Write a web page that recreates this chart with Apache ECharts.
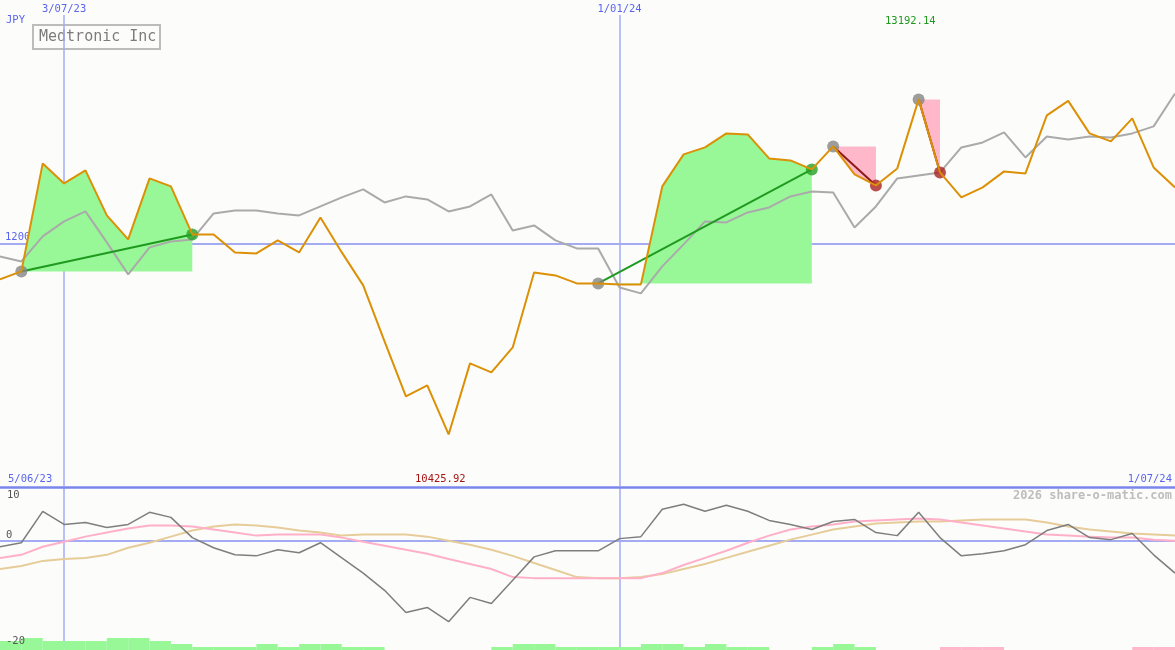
<!DOCTYPE html>
<html>
<head>
<meta charset="utf-8">
<script src="https://cdn.jsdelivr.net/npm/echarts/dist/echarts.min.js"></script>
<style>
html,body{margin:0;padding:0;background:#fcfdfb;}
#chart{width:1175px;height:650px;}
</style>
</head>
<body>
<div id="chart"></div>
<script>
// ---- data ----
const dates = ['12/06/23','19/06/23','26/06/23','3/07/23','10/07/23','17/07/23','24/07/23','31/07/23','7/08/23','14/08/23',
'21/08/23','28/08/23','4/09/23','11/09/23','18/09/23','25/09/23','2/10/23','9/10/23','16/10/23','23/10/23',
'30/10/23','6/11/23','13/11/23','20/11/23','27/11/23','4/12/23','11/12/23','18/12/23','25/12/23','1/01/24',
'8/01/24','15/01/24','22/01/24','29/01/24','5/02/24','12/02/24','19/02/24','26/02/24','4/03/24','11/03/24',
'18/03/24','25/03/24','1/04/24','8/04/24','15/04/24','22/04/24','29/04/24','6/05/24','13/05/24','20/05/24',
'27/05/24','3/06/24','10/06/24','17/06/24','24/06/24','1/07/24'];

const closes = [11705.7, 11771.8, 12663.5, 12498.4, 12605.8, 12234.2, 12036.0, 12539.7, 12473.6, 12077.3,
12077.3, 11928.7, 11920.4, 12027.8, 11928.7, 12217.7, 11928.7, 11656.2, 11193.8, 10739.7,
10830.5, 10425.92, 11012.2, 10937.9, 11144.3, 11763.5, 11738.8, 11672.7, 11672.7, 11664.5,
11664.5, 12473.6, 12737.9, 12795.7, 12911.3, 12903.0, 12704.8, 12688.3, 12614.0, 12803.9,
12572.7, 12481.9, 12622.3, 13192.14, 12589.2, 12382.8, 12465.4, 12597.5, 12581.0, 13059.9,
13180.0, 12911.3, 12845.2, 13035.1, 12630.5, 12465.4];

const average = [11895.7, 11854.4, 12060.8, 12184.7, 12267.2, 12011.3, 11747.0, 11970.0, 12019.5, 12036.0,
12250.7, 12275.5, 12275.5, 12250.7, 12234.2, 12308.5, 12382.8, 12448.9, 12341.5, 12391.1,
12366.3, 12267.2, 12308.5, 12407.6, 12110.3, 12151.6, 12027.8, 11961.7, 11961.7, 11639.7,
11590.2, 11813.1, 11994.7, 12184.7, 12176.4, 12259.0, 12300.3, 12391.1, 12432.4, 12424.1,
12135.1, 12308.5, 12539.7, 12564.5, 12589.2, 12795.7, 12836.9, 12919.5, 12713.1, 12886.5,
12861.7, 12886.5, 12878.2, 12911.3, 12969.1, 13241.5];

const oscFast = [-1.13, -0.38, 5.47, 3.02, 3.40, 2.45, 3.02, 5.28, 4.34, 0.57,
-1.32, -2.64, -2.83, -1.70, -2.26, -0.38, -3.21, -6.04, -9.25, -13.40,
-12.45, -15.09, -10.57, -11.70, -7.36, -3.02, -1.89, -1.89, -1.89, 0.38,
0.75, 5.85, 6.79, 5.47, 6.60, 5.47, 3.77, 3.02, 2.08, 3.58,
3.96, 1.51, 0.94, 5.28, 0.57, -2.83, -2.45, -1.89, -0.75, 1.89,
3.02, 0.57, 0.19, 1.32, -2.64, -6.04];

const oscMid = [-3.21, -2.64, -1.13, -0.19, 0.75, 1.51, 2.26, 2.83, 2.83, 2.64,
2.08, 1.51, 0.94, 1.13, 1.13, 1.13, 0.57, -0.19, -0.94, -1.70,
-2.45, -3.40, -4.34, -5.28, -6.79, -6.98, -6.98, -6.98, -6.98, -6.98,
-6.98, -6.04, -4.53, -3.21, -1.89, -0.38, 0.94, 2.08, 2.64, 3.02,
3.58, 3.77, 3.96, 4.15, 3.96, 3.40, 2.83, 2.26, 1.70, 1.13,
0.94, 0.75, 0.57, 0.57, 0.19, 0];

const oscSlow = [-5.28, -4.72, -3.77, -3.40, -3.21, -2.64, -1.32, -0.38, 0.75, 1.89,
2.64, 3.02, 2.83, 2.45, 1.89, 1.51, 0.94, 1.13, 1.13, 1.13,
0.75, 0, -0.75, -1.70, -2.83, -4.15, -5.47, -6.79, -6.98, -6.98,
-6.79, -6.23, -5.28, -4.34, -3.21, -2.08, -0.94, 0.19, 1.13, 2.08,
2.64, 3.21, 3.40, 3.58, 3.58, 3.77, 3.96, 3.96, 3.96, 3.40,
2.64, 2.08, 1.70, 1.32, 1.13, 0.94];

const barsUp = [3,4,3,3,3,4,4,3,2,1, 1,1,2,1,2,2,1,1,0,0, 0,0,0,1,2,2,1,1,1,1,
2,2,1,2,1,1,0,0,1,2, 1,0,0,0,0,0,0,0,0,0, 0,0,0,0,0];
const barsDown = [0,0,0,0,0,0,0,0,0,0, 0,0,0,0,0,0,0,0,0,0, 0,0,0,0,0,0,0,0,0,0,
0,0,0,0,0,0,0,0,0,0, 0,0,0,0,1,1,1,0,0,0, 0,0,0,1,1];

const tradeStart = [1, 28, 39, 43];
const tradeEnd = [9, 38, 41, 44];
const markedDates = ['3/07/23', '1/01/24'];

// ---- chart ----
const FONT = 'DejaVu Sans Mono';
const BLUE_TXT = '#5a64ee';
const BLUE_LINE = '#a3abf3';
const markIdx = markedDates.map(d => dates.indexOf(d));
const markFn = (i) => markIdx.indexOf(i) >= 0;
const barCats = dates.slice(0, barsUp.length);

const trades = tradeStart.map((s, k) => [s, tradeEnd[k], closes[s]]);
const entries = tradeStart.map(s => [s, closes[s]]);
const exits = tradeEnd.map((e, k) => ({
  value: [e, closes[e]],
  itemStyle: { color: closes[e] > closes[tradeStart[k]] ? '#26a026' : '#a82222' }
}));

const minVal = Math.min(...closes), maxVal = Math.max(...closes);

const chart = echarts.init(document.getElementById('chart'), null, {renderer: 'canvas'});
const option = {
  backgroundColor: '#fcfdfb',
  animation: false,
  grid: [
    {left: 0, right: 0, top: 15, height: 471},
    {left: 0, right: 0, top: 487, height: 161},
    {left: 0, right: 0, top: 638, height: 12}
  ],
  xAxis: [
    {type: 'category', gridIndex: 0, data: dates, boundaryGap: false, position: 'top',
     axisLine: {show: false, onZero: false}, axisTick: {show: false},
     axisLabel: {interval: markFn, color: BLUE_TXT, fontFamily: FONT, fontSize: 10.5, margin: 0},
     splitLine: {show: true, interval: markFn, lineStyle: {color: BLUE_LINE, width: 1.5}}},
    {type: 'category', gridIndex: 1, data: dates, boundaryGap: false, position: 'top',
     axisLine: {show: true, onZero: false, lineStyle: {color: '#7a86ec', width: 2.5}}, axisTick: {show: false},
     axisLabel: {show: false},
     splitLine: {show: true, interval: markFn, lineStyle: {color: BLUE_LINE, width: 1.5}}},
    {type: 'category', gridIndex: 2, data: barCats, show: false}
  ],
  yAxis: [
    {type: 'value', gridIndex: 0, min: 10000, max: 13889, interval: 2000,
     axisLine: {show: false}, axisTick: {show: false}, axisLabel: {show: false},
     splitLine: {show: true, lineStyle: {color: ['transparent', BLUE_LINE, 'transparent'], width: 2}}},
    {type: 'value', gridIndex: 1, min: -20, max: 10, interval: 20,
     axisLine: {show: false}, axisTick: {show: false}, axisLabel: {show: false},
     splitLine: {show: true, lineStyle: {color: ['transparent', BLUE_LINE, 'transparent'], width: 2}}},
    {type: 'value', gridIndex: 2, min: 0, max: 4, show: false}
  ],
  graphic: [
    {type: 'text', left: 6, top: 15, z: 0, style: {text: 'JPY', fill: BLUE_TXT, font: '10.5px "' + FONT + '"'}},
    {type: 'text', left: 5, top: 232, z: 0, style: {text: '12000', fill: BLUE_TXT, font: '10.5px "' + FONT + '"'}},
    {type: 'group', left: 32, top: 24, z: 100, children: [
      {type: 'rect', shape: {x: 0, y: 0, width: 127, height: 24}, style: {fill: '#fcfdfb', stroke: '#bcbcbc', lineWidth: 2}},
      {type: 'text', x: 6, y: 5, style: {text: 'Medtronic Inc', fill: '#7c7c7c', font: '15px "' + FONT + '"'}}
    ]},
    {type: 'text', left: 885, top: 16, z: 100, style: {text: maxVal.toFixed(2), fill: '#1f9a1f', font: '10.5px "' + FONT + '"'}},
    {type: 'text', left: 415, top: 474, z: 100, style: {text: minVal.toFixed(2), fill: '#a81414', font: '10.5px "' + FONT + '"'}},
    {type: 'text', left: 8, top: 474, z: 100, style: {text: '5/06/23', fill: BLUE_TXT, font: '10.5px "' + FONT + '"'}},
    {type: 'text', right: 3, top: 474, z: 100, style: {text: dates[dates.length - 1], fill: BLUE_TXT, font: '10.5px "' + FONT + '"'}},
    {type: 'text', right: 3, top: 490, z: 100, style: {text: '2026 share-o-matic.com', fill: '#bdbdbd', font: 'bold 12px "' + FONT + '"'}},
    {type: 'text', left: 7, top: 490, z: 100, style: {text: '10', fill: '#555555', font: '10.5px "' + FONT + '"'}},
    {type: 'text', left: 6, top: 530, z: 100, style: {text: '0', fill: '#555555', font: '10.5px "' + FONT + '"'}},
    {type: 'text', left: 6, top: 636, z: 100, style: {text: '-20', fill: '#555555', font: '10.5px "' + FONT + '"'}}
  ],
  series: [
    {type: 'custom', name: 'fills', xAxisIndex: 0, yAxisIndex: 0, z: 2, silent: true,
     data: trades, encode: {x: [0, 1], y: 2},
     renderItem: function (params, api) {
       const s = api.value(0), e = api.value(1), base = api.value(2);
       const pts = [api.coord([s, base])];
       for (let i = s; i <= e; i++) pts.push(api.coord([i, closes[i]]));
       pts.push(api.coord([e, base]));
       const win = closes[e] > base;
       return {type: 'polygon', shape: {points: pts}, style: {fill: win ? '#98f898' : '#ffb7ca'}};
     }},
    {type: 'line', name: 'average', xAxisIndex: 0, yAxisIndex: 0, z: 3, data: average,
     symbol: 'none', lineStyle: {color: '#aaaaaa', width: 2}, itemStyle: {color: '#aaaaaa'}},
    {type: 'custom', name: 'tradeLines', xAxisIndex: 0, yAxisIndex: 0, z: 4, silent: true,
     data: trades, encode: {x: [0, 1], y: 2},
     renderItem: function (params, api) {
       const s = api.value(0), e = api.value(1);
       const p1 = api.coord([s, closes[s]]), p2 = api.coord([e, closes[e]]);
       const win = closes[e] > closes[s];
       return {type: 'line', shape: {x1: p1[0], y1: p1[1], x2: p2[0], y2: p2[1]},
               style: {stroke: win ? '#1f9a1f' : '#8c1a1a', lineWidth: 2}};
     }},
    {type: 'scatter', name: 'entries', xAxisIndex: 0, yAxisIndex: 0, z: 5, data: entries,
     symbolSize: 12, itemStyle: {color: '#858585'}},
    {type: 'scatter', name: 'exits', xAxisIndex: 0, yAxisIndex: 0, z: 5, data: exits,
     symbolSize: 12},
    {type: 'line', name: 'close', xAxisIndex: 0, yAxisIndex: 0, z: 6, data: closes,
     symbol: 'none', lineStyle: {color: '#dc9006', width: 2}, itemStyle: {color: '#dc9006'}},
    {type: 'line', name: 'slow', xAxisIndex: 1, yAxisIndex: 1, z: 3, data: oscSlow,
     symbol: 'none', lineStyle: {color: '#e6cc98', width: 2}},
    {type: 'line', name: 'mid', xAxisIndex: 1, yAxisIndex: 1, z: 3, data: oscMid,
     symbol: 'none', lineStyle: {color: '#ffb0c8', width: 2}},
    {type: 'line', name: 'fast', xAxisIndex: 1, yAxisIndex: 1, z: 4, data: oscFast,
     symbol: 'none', lineStyle: {color: '#7e7e7e', width: 1.5}},
    {type: 'bar', name: 'up', xAxisIndex: 2, yAxisIndex: 2, stack: 'b', z: 6, data: barsUp,
     barWidth: '100%', barCategoryGap: '0%', itemStyle: {color: '#98f898'}},
    {type: 'bar', name: 'down', xAxisIndex: 2, yAxisIndex: 2, stack: 'b', z: 6, data: barsDown,
     barWidth: '100%', barCategoryGap: '0%', itemStyle: {color: '#ffb7ca'}}
  ]
};
chart.setOption(option);
</script>
</body>
</html>
